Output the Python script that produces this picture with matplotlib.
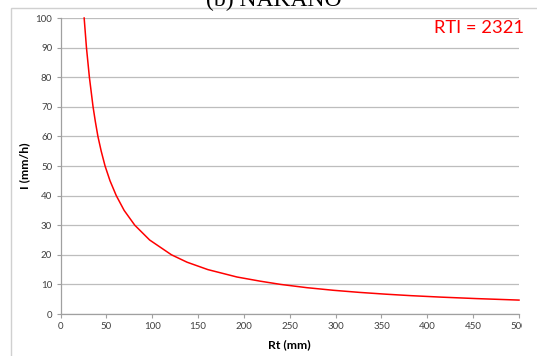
import matplotlib
matplotlib.use('Agg')
import matplotlib.pyplot as plt
from matplotlib.patches import Rectangle

rt = [25.8, 28.3, 31.5, 35.5, 38.0, 40.8, 44.4, 48.6, 54.0, 60.8, 69.4, 81.0, 97.2,
      121.0, 138.0, 160.7, 192.4, 217.6, 240.0, 268.5, 298.0, 326.0, 354.5, 382.0,
      415.0, 454.0, 500.0]
intensidad = [100, 90, 80, 70, 65, 60, 55, 50, 45, 40, 35, 30, 25,
              20, 17.5, 15, 12.5, 11.1, 10, 8.9, 8.0, 7.3, 6.7, 6.2,
              5.7, 5.2, 4.7]
xticks = [0, 50, 100, 150, 200, 250, 300, 350, 400, 450, 500]
yticks = [0, 10, 20, 30, 40, 50, 60, 70, 80, 90, 100]
etiqueta = 'RTI = 2321'
titulo = '(b) NAKANO'

W, H = 537, 356
fig = plt.figure(figsize=(W / 100, H / 100), dpi=100)
ax = fig.add_axes([60.5 / W, 1 - 314 / H, (519 - 60.5) / W, (314 - 18) / H])

# Marco del gráfico
fig.patches.append(Rectangle((11 / W, -0.1), 1.0, 1 - 8 / H + 0.1, transform=fig.transFigure,
                             fill=False, edgecolor='#d0d0d0', linewidth=1.0))

# Título cortado arriba, como en el original
fig.text(274 / W, 1 - 6.5 / H, titulo, ha='center', va='baseline', fontsize=17,
         family='Liberation Serif', color='black')

ax.plot(rt, intensidad, color='#ff0000', linewidth=1.1, clip_on=False,
        solid_joinstyle='round')

ax.set_xlim(0, 500)
ax.set_ylim(0, 100)
ax.set_xticks(xticks)
ax.set_yticks(yticks)
ax.grid(axis='y', color='#bdbdbd', linewidth=0.9)
ax.set_axisbelow(True)
for s in ['top', 'right']:
    ax.spines[s].set_visible(False)
for s in ['left', 'bottom']:
    ax.spines[s].set_color('#a0a0a0')
    ax.spines[s].set_linewidth(0.9)
ax.tick_params(direction='out', length=3, width=0.8, color='#a0a0a0',
               labelsize=7, labelcolor='#404040', pad=3)
for lab in ax.get_xticklabels() + ax.get_yticklabels():
    lab.set_family('Lato')

ax.set_xlabel('Rt (mm)', fontsize=8.8, fontweight='bold', family='Lato', labelpad=6)
ax.set_ylabel('I (mm/h)', fontsize=8.8, fontweight='bold', family='Lato')
ax.yaxis.set_label_coords((30 - 60.5) / (519 - 60.5), 0.5)

ax.text(1.01, 0.965, etiqueta, transform=ax.transAxes, ha='right', va='center',
        fontsize=13.2, color='#ff0000', family='Lato')

# La etiqueta 500 aparece recortada en el original
clip = Rectangle((0, 0), 522 / W, 1, transform=fig.transFigure)
ax.get_xticklabels()[-1].set_clip_path(clip)

fig.savefig('out.png', dpi=100)
